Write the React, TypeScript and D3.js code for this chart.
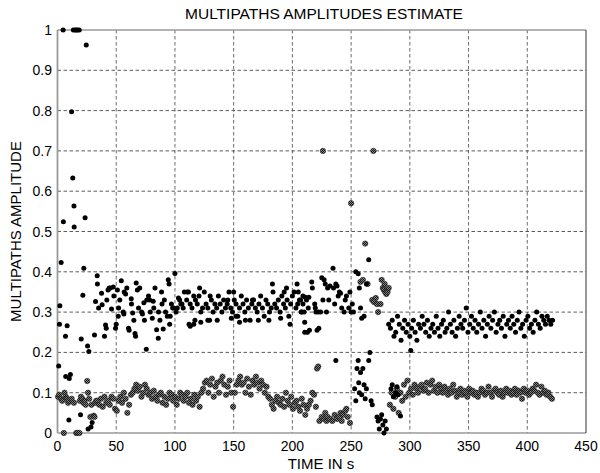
import React from 'react';
import * as d3 from 'd3';

// ---------- DATA ----------
const xTicks = [0, 50, 100, 150, 200, 250, 300, 350, 400, 450];
const yTicks = [0, 0.1, 0.2, 0.3, 0.4, 0.5, 0.6, 0.7, 0.8, 0.9, 1];
const yTickLabels = ['0', '0.1', '0.2', '0.3', '0.4', '0.5', '0.6', '0.7', '0.8', '0.9', '1'];

// Path 1 (black dots): explicit [time, amplitude]
const blackEarly: [number, number][] = [
  [1, 0.166], [1.7, 0.27], [2, 0.316], [4.8, 1.0], [3.1, 0.423], [5, 0.524], [6.8, 0.24], [8.2, 0.266],
  [7, 0.14], [9.7, 0.032], [10, 0.135], [11, 0.145], [12, 0.797], [13, 0.633], [14, 0.563], [14.2, 0.511],
  [13.5, 1], [15, 1], [16, 1], [17, 1], [18.5, 1], [20.2, 0.233], [19.6, 0.045], [21.6, 0.342],
  [22.4, 0.409], [23.5, 0.534], [24.5, 0.963], [25.6, 0.216], [26.7, 0.202], [26, 0.01], [28.5, 0.015], [29.5, 0.026],
];
const blackBand1: [number, number][] = [
  [32.4, 0.326], [31.5, 0.243], [33.8, 0.39], [34, 0.37], [37.5, 0.347], [38, 0.318], [40, 0.24], [40.9, 0.268],
  [41.5, 0.26], [43, 0.355], [45, 0.36], [46, 0.308], [47.5, 0.362], [49.4, 0.26], [50, 0.27], [51, 0.355],
  [51.7, 0.29], [53, 0.33], [54.3, 0.378], [56, 0.3], [56.5, 0.295], [56.8, 0.35], [58, 0.345], [60.5, 0.26],
  [61, 0.255], [62.8, 0.333], [64, 0.298], [66, 0.247], [66.5, 0.24], [67, 0.372], [68, 0.355], [71.6, 0.3],
  [72.3, 0.295], [73.5, 0.323], [75.6, 0.208], [77.5, 0.34], [78.5, 0.33], [80.7, 0.285], [81.5, 0.327],
  [84.4, 0.256], [85.8, 0.235], [87.2, 0.28], [88.6, 0.35], [90, 0.258], [93.5, 0.29], [94.3, 0.38], [95, 0.37],
  [95.5, 0.27], [97, 0.32], [98, 0.31], [99, 0.31], [100, 0.396], [102, 0.31], [104, 0.33], [106, 0.32],
  [35, 0.31], [42, 0.33], [44, 0.36], [48, 0.34], [52, 0.31], [59, 0.36], [63, 0.32], [65, 0.28], [69, 0.31],
  [70, 0.36], [74, 0.28], [76, 0.33], [79, 0.3], [82, 0.31], [83, 0.36], [86, 0.3], [89, 0.32], [91, 0.33],
  [92, 0.3], [96, 0.29], [101, 0.3], [103, 0.335], [105, 0.32], [107, 0.31], [108, 0.35],
];
// regularly sampled from t = 110 s, every 1.5 s
const blackBand2Start = 110;
const blackBand2Values = [
  0.33, 0.35, 0.32, 0.31, 0.27, 0.33, 0.32, 0.34, 0.30, 0.31,
  0.35, 0.32, 0.31, 0.28, 0.33, 0.30, 0.32, 0.31, 0.34, 0.32,
  0.30, 0.33, 0.31, 0.32, 0.35, 0.31, 0.30, 0.33, 0.32, 0.29,
  0.31, 0.34, 0.32, 0.30, 0.33, 0.31, 0.28, 0.32, 0.33, 0.31,
  0.30, 0.32, 0.34, 0.31, 0.29, 0.33, 0.32, 0.30, 0.31, 0.35,
  0.32, 0.31, 0.33, 0.30, 0.34, 0.32, 0.31, 0.33, 0.29, 0.32,
  0.34, 0.35, 0.31, 0.32, 0.33, 0.30, 0.32, 0.25, 0.33, 0.31,
];
const blackBand2Extra: [number, number][] = [
  [112, 0.27], [113, 0.265], [117, 0.28], [122, 0.275], [128, 0.28], [136, 0.28], [148, 0.285], [152, 0.29],
  [155, 0.275], [160, 0.28], [166, 0.33], [171, 0.28], [180, 0.28], [183, 0.37], [190, 0.285], [193, 0.35],
  [195, 0.36], [198, 0.27], [204, 0.37], [205, 0.35], [110.5, 0.35], [116, 0.34], [121, 0.36], [130, 0.34],
  [145, 0.33], [150, 0.35],
];
const blackBand3: [number, number][] = [
  [207, 0.33], [208, 0.3], [209, 0.34], [210, 0.3], [210.5, 0.275], [211, 0.337], [212.8, 0.25], [214, 0.337],
  [214.5, 0.255], [216.5, 0.375], [217, 0.36], [219, 0.32], [219.5, 0.31], [220, 0.3], [221, 0.255], [222, 0.3],
  [222.5, 0.26], [224, 0.3], [225, 0.385], [226, 0.33], [227, 0.38], [228, 0.37], [229, 0.3], [230, 0.36],
  [231, 0.33], [232, 0.365], [234.6, 0.409], [235, 0.36], [236, 0.32], [237, 0.37], [238, 0.365], [239, 0.34],
  [240, 0.35], [241, 0.347], [242, 0.31], [244, 0.3], [245, 0.33], [246, 0.34], [248, 0.31], [249, 0.35],
  [250, 0.3], [251, 0.32], [252, 0.3], [258, 0.31], [259, 0.285], [261, 0.29], [254, 0.4], [256, 0.395],
  [257, 0.36], [263, 0.37], [265, 0.43],
];
const blackLow: [number, number][] = [
  [237, 0.18], [253, 0.11], [254, 0.08], [255, 0.16], [256, 0.18], [256.5, 0.125], [257, 0.1], [258, 0.15],
  [259, 0.095], [260, 0.16], [261, 0.12], [262, 0.085], [263, 0.11], [266, 0.2], [265, 0.18], [267, 0.08],
  [268, 0.07], [272, 0.04], [273, 0.03], [274, 0.01], [275, 0.035], [276, 0.045], [277, 0.02], [278, 0.0],
  [279, 0.03], [280, 0.01], [284, 0.11], [285, 0.12], [286, 0.09], [288, 0.1], [289, 0.115], [290, 0.095],
  [292, 0.042], [300.8, 0.205],
];
// regularly sampled from t = 282 s, every 1.5 s
const blackBand4Start = 282;
const blackBand4Values = [
  0.27, 0.26, 0.28, 0.24, 0.25, 0.29, 0.27, 0.23, 0.26, 0.28,
  0.25, 0.27, 0.24, 0.26, 0.28, 0.25, 0.23, 0.27, 0.26, 0.29,
  0.27, 0.25, 0.28, 0.24, 0.26, 0.27, 0.25, 0.29, 0.26, 0.24,
  0.27, 0.28, 0.25, 0.26, 0.30, 0.27, 0.25, 0.28, 0.24, 0.26,
  0.29, 0.27, 0.26, 0.28, 0.31, 0.25, 0.27, 0.29, 0.26, 0.28,
  0.25, 0.27, 0.30, 0.26, 0.28, 0.24, 0.27, 0.29, 0.26, 0.28,
  0.30, 0.25, 0.27, 0.28, 0.26, 0.29, 0.24, 0.27, 0.28, 0.26,
  0.29, 0.27, 0.25, 0.28, 0.30, 0.26, 0.27, 0.24, 0.28, 0.29,
  0.26, 0.27, 0.25, 0.28, 0.30, 0.27, 0.26, 0.29, 0.28, 0.27,
  0.29, 0.28, 0.27, 0.28,
];

// Path 2 (grey hatched dots)
const greyEarly: [number, number][] = [
  [0.5, 0.09], [1.5, 0.095], [3, 0.085], [4, 0.08], [5.4, 0.0], [6, 0.1], [7, 0.09], [8, 0.085], [9, 0.075],
  [10, 0.08], [12, 0.085], [14, 0.075], [16, 0.0], [17, 0.0], [18.7, 0.0], [19, 0.08], [20, 0.09], [21, 0.085],
  [22, 0.075], [23, 0.08], [24, 0.07], [25.3, 0.129], [26, 0.1], [27, 0.085], [28, 0.04], [29, 0.07],
  [30.8, 0.043], [31.5, 0.04], [32, 0.075], [33, 0.08],
];
// regularly sampled from t = 34 s, every 1.5 s
const greyBand1Start = 34;
const greyBand1Values = [
  0.08, 0.07, 0.085, 0.065, 0.09, 0.075, 0.08, 0.07, 0.09, 0.085,
  0.06, 0.055, 0.08, 0.09, 0.075, 0.1, 0.085, 0.05, 0.07, 0.095,
  0.1, 0.11, 0.12, 0.105, 0.115, 0.09, 0.1, 0.12, 0.11, 0.095,
  0.1, 0.085, 0.105, 0.09, 0.08, 0.095, 0.1, 0.075, 0.09, 0.07,
  0.085, 0.1, 0.095, 0.08, 0.09, 0.07, 0.085, 0.1, 0.095, 0.08,
  0.09, 0.1, 0.075, 0.085, 0.07, 0.095, 0.08, 0.09, 0.065, 0.1,
  0.11, 0.125, 0.13, 0.1, 0.12, 0.135, 0.09, 0.115, 0.125, 0.1,
  0.13, 0.14, 0.12, 0.095, 0.115, 0.13, 0.1, 0.065, 0.1, 0.12,
  0.13, 0.14, 0.12, 0.125, 0.1, 0.135, 0.115, 0.095, 0.13, 0.12,
  0.14, 0.125, 0.11, 0.13, 0.12, 0.1, 0.115, 0.09, 0.085, 0.07,
  0.06, 0.08, 0.09, 0.075, 0.07, 0.085, 0.065, 0.1, 0.08, 0.07,
  0.09, 0.06, 0.075, 0.08, 0.065, 0.055, 0.085, 0.07, 0.045, 0.06,
  0.07, 0.08, 0.1, 0.095,
];
const greyMid: [number, number][] = [
  [220, 0.065], [221, 0.16], [222, 0.165], [223, 0.03], [225, 0.04], [226, 0.7], [227, 0.035], [228, 0.05],
  [229, 0.03], [230, 0.04], [232, 0.035], [234, 0.03], [236, 0.045], [238, 0.035], [240, 0.04], [241, 0.05],
  [242, 0.03], [243, 0.045], [245, 0.055], [246, 0.06], [247, 0.04], [249, 0.025], [250, 0.57], [262, 0.47],
  [269, 0.7], [268, 0.33], [269.5, 0.325], [271, 0.335], [272, 0.32], [273, 0.3], [275, 0.32], [277, 0.36],
  [278, 0.355], [279, 0.35], [280, 0.345], [281, 0.35], [282, 0.36], [258, 0.375], [260, 0.38], [264, 0.37],
  [276, 0.38], [278.5, 0.37],
];
// regularly sampled from t = 283 s, every 1.5 s
const greyBand2Start = 283;
const greyBand2Values = [
  0.07, 0.1, 0.06, 0.09, 0.11, 0.05, 0.1, 0.08, 0.12, 0.09,
  0.13, 0.1, 0.11, 0.095, 0.12, 0.11, 0.1, 0.115, 0.12, 0.105,
  0.11, 0.125, 0.1, 0.12, 0.13, 0.105, 0.115, 0.1, 0.12, 0.11,
  0.1, 0.115, 0.105, 0.095, 0.11, 0.1, 0.12, 0.105, 0.09, 0.1,
  0.11, 0.095, 0.105, 0.1, 0.09, 0.11, 0.1, 0.105, 0.095, 0.1,
  0.09, 0.1, 0.11, 0.105, 0.095, 0.1, 0.115, 0.1, 0.09, 0.105,
  0.11, 0.1, 0.095, 0.105, 0.09, 0.1, 0.11, 0.1, 0.105, 0.095,
  0.1, 0.11, 0.095, 0.105, 0.1, 0.085, 0.11, 0.1, 0.105, 0.095,
  0.1, 0.11, 0.105, 0.12, 0.1, 0.095, 0.115, 0.1, 0.105, 0.095,
  0.1, 0.09, 0.085,
];

const sampled = (start: number, vals: number[]): [number, number][] =>
  vals.map((v, i) => [start + i * 1.5, v]);

const blackPoints: [number, number][] = [
  ...blackEarly, ...blackBand1, ...sampled(blackBand2Start, blackBand2Values), ...blackBand2Extra,
  ...blackBand3, ...blackLow, ...sampled(blackBand4Start, blackBand4Values),
];
const greyPoints: [number, number][] = [
  ...greyEarly, ...sampled(greyBand1Start, greyBand1Values), ...greyMid, ...sampled(greyBand2Start, greyBand2Values),
];

// ---------- LAYOUT ----------
const W = 600, H = 473;
const L = 57.5, R = 586, T = 30, B = 433;
const FONT = "'Liberation Sans', Arial, Helvetica, sans-serif";

export default function App() {
  const x = d3.scaleLinear().domain([0, 450]).range([L, R]);
  const y = d3.scaleLinear().domain([0, 1]).range([B, T]);

  return (
    <svg width={W} height={H} style={{ position: 'absolute', left: 0, top: 0, background: '#fff' }}
      fontFamily={FONT}>
      <defs>
        <pattern id="hatch" width="2" height="2" patternUnits="userSpaceOnUse">
          <rect width="2" height="2" fill="#8a8a8a" />
          <rect width="1" height="1" fill="#111" />
          <rect x="1" y="1" width="1" height="1" fill="#111" />
        </pattern>
        <clipPath id="plotclip">
          <rect x={L - 3} y={T - 3} width={R - L + 6} height={B - T + 6} />
        </clipPath>
      </defs>
      <rect width={W} height={H} fill="#fff" />
      {/* grid */}
      {yTicks.filter(v => v > 0 && v < 1).map(v => (
        <line key={'gy' + v} x1={L} x2={R} y1={y(v)} y2={y(v)} stroke="#333" strokeWidth={0.8} strokeDasharray="3.5,2.5" />
      ))}
      {xTicks.filter(v => v > 0 && v < 450).map(v => (
        <line key={'gx' + v} x1={x(v)} x2={x(v)} y1={T} y2={B} stroke="#444" strokeWidth={0.8} strokeDasharray="3.5,2.5" />
      ))}
      {/* frame */}
      <line x1={L} x2={R} y1={T} y2={T} stroke="#9a9a9a" strokeWidth={1.6} />
      <line x1={L} x2={R} y1={B} y2={B} stroke="#9a9a9a" strokeWidth={1.6} />
      <line x1={L} x2={L} y1={T} y2={B} stroke="#9a9a9a" strokeWidth={1.8} />
      <line x1={R} x2={R} y1={T} y2={B} stroke="#333" strokeWidth={1} />
      {/* data */}
      <g clipPath="url(#plotclip)">
        {greyPoints.map((p, i) => (
          <circle key={'g' + i} cx={x(p[0])} cy={y(p[1])} r={2.7} fill="url(#hatch)" stroke="#222" strokeWidth={0.6} />
        ))}
        {blackPoints.map((p, i) => (
          <circle key={'b' + i} cx={x(p[0])} cy={y(p[1])} r={2.5} fill="#000" />
        ))}
      </g>
      {/* tick labels */}
      {yTicks.map((v, i) => (
        <text key={'ty' + v} x={52} y={y(v) + 5} textAnchor="end" fontSize={14} fill="#000">{yTickLabels[i]}</text>
      ))}
      {xTicks.map(v => (
        <text key={'tx' + v} x={x(v)} y={451} textAnchor="middle" fontSize={14} fill="#000">{v}</text>
      ))}
      {/* titles */}
      <text x={324} y={19} textAnchor="middle" fontSize={15.5} fill="#000">MULTIPATHS AMPLITUDES ESTIMATE</text>
      <text x={321} y={469} textAnchor="middle" fontSize={15} fill="#000">TIME IN s</text>
      <text transform={`translate(21,${(T + B) / 2}) rotate(-90)`} textAnchor="middle" fontSize={15} fill="#000">MULTIPATHS AMPLITUDE</text>
    </svg>
  );
}
